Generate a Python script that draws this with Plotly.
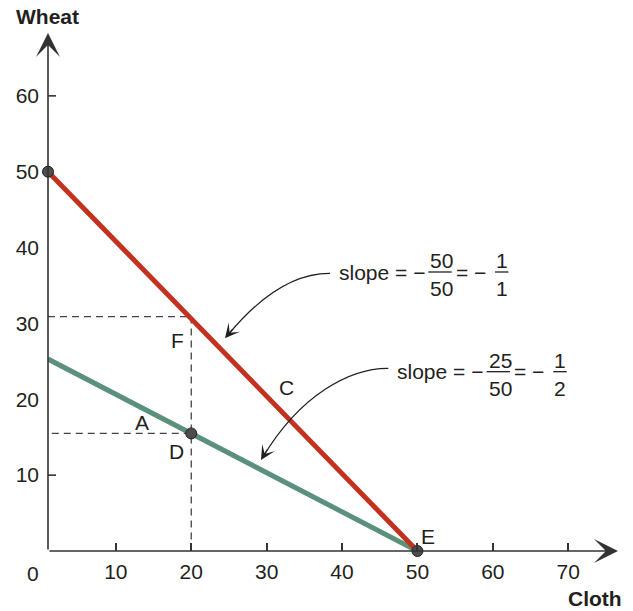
import plotly.graph_objects as go

# ---- data ----
red_cloth = [1, 50]
red_wheat = [50, 0]
green_cloth = [1, 50]
green_wheat = [25.3, 0]
point_cloth = [1, 20, 50]
point_wheat = [50, 15.5, 0]
F_level = 30.9
D_level = 15.5
D_cloth = 20
x_tickvals = [10, 20, 30, 40, 50, 60, 70]
y_tickvals = [10, 20, 30, 40, 50, 60]
y_tickmarks = [10, 60]

# ---- geometry ----
L, R, T, B = 48, 12, 20, 60
WIDTH, HEIGHT = 633, 611
W = WIDTH - L - R
H = HEIGHT - T - B
XR = [1, 77]
YR = [0, 70]
sx = W / (XR[1] - XR[0])
sy = H / (YR[1] - YR[0])

def px2x(px):
    return XR[0] + (px - L) / sx

def px2y(py):
    return YR[0] + (T + H - py) / sy

def pxp(px):
    return (px - L) / W

def pyp(py):
    return (T + H - py) / H

FONT = "Liberation Sans, Arial, Helvetica, sans-serif"
TXT = "#231f20"
AX = "#333333"
FS = 21

fig = go.Figure()

fig.add_trace(go.Scatter(x=green_cloth, y=green_wheat, mode="lines",
                         line=dict(color="#5b917a", width=5), hoverinfo="skip"))
fig.add_trace(go.Scatter(x=red_cloth, y=red_wheat, mode="lines",
                         line=dict(color="#c2321f", width=5), hoverinfo="skip"))
fig.add_trace(go.Scatter(x=point_cloth, y=point_wheat, mode="markers",
                         marker=dict(size=11, color="#4d4d4f",
                                     line=dict(color=TXT, width=1)),
                         cliponaxis=False, hoverinfo="skip"))

shapes = []
dash = dict(color="#444444", width=1.3, dash="7px,5px")
shapes.append(dict(type="line", xref="x", yref="y", x0=XR[0], x1=D_cloth,
                   y0=F_level, y1=F_level, line=dash, layer="below"))
shapes.append(dict(type="line", xref="x", yref="y", x0=D_cloth, x1=D_cloth,
                   y0=F_level, y1=0, line=dash, layer="below"))
shapes.append(dict(type="line", xref="x", yref="y", x0=XR[0] + 0.5, x1=D_cloth,
                   y0=D_level, y1=D_level, line=dash, layer="below"))
for v in y_tickmarks:
    shapes.append(dict(type="line", xref="x", yref="y", x0=XR[0],
                       x1=XR[0] + 8 / sx, y0=v, y1=v,
                       line=dict(color=AX, width=1.6)))

def pt(px, py):
    return f"{px2x(px):.4f},{px2y(py):.4f}"

# curved arrows
shapes.append(dict(type="path", xref="x", yref="y",
                   path=f"M {pt(330, 273.3)} Q {pt(279, 273)} {pt(228, 335)}",
                   line=dict(color=TXT, width=1.2)))
shapes.append(dict(type="path", xref="x", yref="y",
                   path=f"M {pt(388.3, 368.3)} C {pt(350, 368)} {pt(300, 395)} {pt(263, 457)}",
                   line=dict(color=TXT, width=1.2)))

annotations = []
# axis arrows
annotations.append(dict(x=px2x(618), y=0, ax=XR[0], ay=0, axref="x", ayref="y",
                        xref="x", yref="y", text="", showarrow=True,
                        arrowhead=3, arrowsize=2.5, arrowwidth=1.6, arrowcolor=AX,
                        standoff=0, startstandoff=0))
annotations.append(dict(x=XR[0], y=px2y(33), ax=XR[0], ay=0, axref="x", ayref="y",
                        xref="x", yref="y", text="", showarrow=True,
                        arrowhead=3, arrowsize=2.5, arrowwidth=1.6, arrowcolor=AX,
                        standoff=0, startstandoff=0))
# curve arrowheads
for tip, d in [((225, 338.3), (-0.638, 0.770)), ((261, 460), (-0.514, 0.857))]:
    annotations.append(dict(x=px2x(tip[0]), y=px2y(tip[1]), xref="x", yref="y",
                            ax=-14 * d[0], ay=-14 * d[1], text="", showarrow=True,
                            arrowhead=3, arrowsize=2.0, arrowwidth=1.2,
                            arrowcolor=TXT, standoff=0))

def label(text, px, py, size=FS, xanchor="center"):
    annotations.append(dict(x=pxp(px), y=pyp(py), xref="paper", yref="paper",
                            text=text, showarrow=False, xanchor=xanchor,
                            yanchor="middle",
                            font=dict(family=FONT, size=size, color=TXT)))

label("<b>Wheat</b>", 47, 17)
label("<b>Cloth</b>", 595, 598)
label("0", 33, 573)
label("F", 177.3, 340)
label("D", 176.7, 451.7)
label("A", 141.7, 422.7)
label("C", 286, 387.3)
label("E", 428.3, 536.7)

def slope_text(x0, yc, num, den, rnum, rden):
    label("slope = \u2212", x0, yc, xanchor="left")
    fx = x0 + 105
    label(num, fx, yc - 11.4)
    label(den, fx, yc + 16.5)
    shapes.append(dict(type="line", xref="paper", yref="paper",
                       x0=pxp(x0 + 91.6), x1=pxp(x0 + 115), y0=pyp(yc), y1=pyp(yc),
                       line=dict(color=TXT, width=1.3)))
    label("= \u2212", x0 + 134.3, yc)
    gx = x0 + 165
    label(rnum, gx, yc - 11.4)
    label(rden, gx, yc + 16.5)
    shapes.append(dict(type="line", xref="paper", yref="paper",
                       x0=pxp(gx - 6.7), x1=pxp(gx + 6.7), y0=pyp(yc), y1=pyp(yc),
                       line=dict(color=TXT, width=1.3)))

slope_text(336.7, 272, "50", "50", "1", "1")
slope_text(395, 371.7, "25", "50", "1", "2")

fig.update_layout(
    template="none",
    width=WIDTH, height=HEIGHT,
    margin=dict(l=L, r=R, t=T, b=B, pad=0, autoexpand=False),
    plot_bgcolor="white", paper_bgcolor="white",
    showlegend=False,
    shapes=shapes, annotations=annotations,
    font=dict(family=FONT, size=FS, color=TXT),
    xaxis=dict(range=XR, showgrid=False, zeroline=False, showline=False,
               automargin=False,
               tickvals=x_tickvals, ticks="inside", ticklen=8, tickwidth=1.6,
               tickcolor=AX, ticklabelstandoff=6,
               tickfont=dict(family=FONT, size=FS, color=TXT), fixedrange=True),
    yaxis=dict(range=YR, showgrid=False, zeroline=False, showline=False,
               automargin=False,
               tickvals=y_tickvals, ticks="", ticklabelstandoff=8,
               tickfont=dict(family=FONT, size=FS, color=TXT), fixedrange=True),
)

fig.write_html(
    "out.html",
    config={"displayModeBar": False},
    post_script="document.body.style.margin='0';document.body.style.padding='0';"
                "document.body.style.overflow='hidden';",
)
